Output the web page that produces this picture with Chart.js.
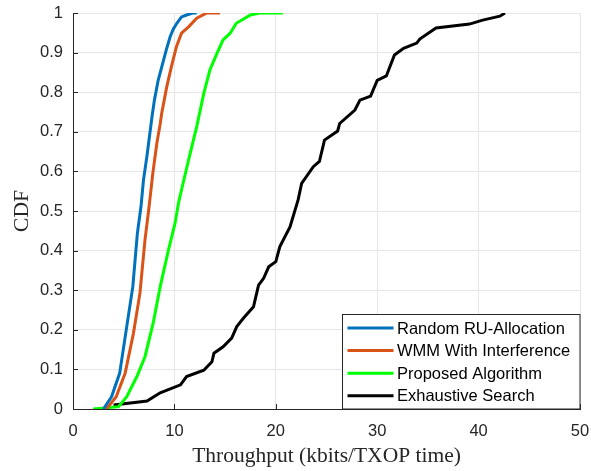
<!DOCTYPE html>
<html>
<head>
<meta charset="utf-8">
<script src="https://cdn.jsdelivr.net/npm/chart.js@4"></script>
<style>
  body { margin: 0; background: #fff; }
  #wrap { width: 591px; height: 471px; }
</style>
</head>
<body>
<div id="wrap"><canvas id="myChart" width="591" height="471"></canvas></div>
<script>
// CDF curves (x = throughput, y = CDF)
var seriesNames = ["Random RU-Allocation", "WMM With Interference", "Proposed Algorithm", "Exhaustive Search"];

var randomX = [3.0, 3.8, 4.6, 5.3, 5.9, 6.35, 6.7, 6.95, 7.3, 7.8, 8.03, 8.4, 9.2, 9.58, 9.9, 10.24, 10.7, 11.2, 11.8, 12.2];
var randomY = [0, 0.031, 0.09, 0.208, 0.309, 0.444, 0.51, 0.578, 0.64, 0.74, 0.78, 0.83, 0.907, 0.94, 0.96, 0.974, 0.99, 0.995, 1.0, 1.0];

var wmmX = [3.3, 4.26, 5.14, 5.96, 6.6, 7.1, 7.5, 7.87, 8.27, 8.6, 8.75, 9.25, 9.7, 10.2, 10.7, 11.4, 12.2, 13.2, 14.5];
var wmmY = [0, 0.031, 0.09, 0.191, 0.292, 0.427, 0.51, 0.595, 0.671, 0.72, 0.747, 0.814, 0.864, 0.915, 0.949, 0.965, 0.987, 1.0, 1.0];

var proposedX = [2.0, 4.5, 5.3, 6.3, 7.1, 7.9, 8.6, 9.4, 10.07, 10.4, 10.7, 11.4, 12.2, 12.9, 13.5, 14.2, 14.8, 15.5, 16.1, 17.5, 18.4, 20.7];
var proposedY = [0, 0.006, 0.031, 0.082, 0.132, 0.216, 0.309, 0.40, 0.47, 0.52, 0.553, 0.629, 0.713, 0.797, 0.856, 0.898, 0.932, 0.949, 0.974, 0.995, 1.0, 1.0];

var exhaustiveX = [4.0, 7.3, 8.6, 10.6, 11.2, 12.9, 13.7, 13.9, 14.8, 15.65, 16.15, 16.8, 17.8, 18.3, 18.8, 19.3, 20.0, 20.4, 21.4, 22.2, 22.55, 23.7, 24.3, 24.8, 26.1, 26.3, 27.8, 28.3, 29.35, 30.0, 30.9, 31.7, 32.6, 33.9, 34.2, 35.8, 39.1, 40.4, 42.1, 42.6];
var exhaustiveY = [0.01, 0.02, 0.041, 0.061, 0.082, 0.098, 0.119, 0.141, 0.157, 0.179, 0.208, 0.229, 0.258, 0.313, 0.33, 0.359, 0.372, 0.41, 0.46, 0.528, 0.57, 0.612, 0.625, 0.679, 0.702, 0.721, 0.755, 0.78, 0.79, 0.83, 0.841, 0.894, 0.911, 0.924, 0.934, 0.962, 0.972, 0.982, 0.992, 1.0];

var xTicks = [0, 10, 20, 30, 40, 50];
var yTicks = [0, 0.1, 0.2, 0.3, 0.4, 0.5, 0.6, 0.7, 0.8, 0.9, 1];

var colors = ["#0072BD", "#D95319", "#00FF00", "#000000"];

function zip(xs, ys) {
  return xs.map(function (x, i) { return { x: x, y: ys[i] }; });
}

var allX = [randomX, wmmX, proposedX, exhaustiveX];
var allY = [randomY, wmmY, proposedY, exhaustiveY];

var datasets = seriesNames.map(function (name, i) {
  return {
    label: name,
    data: zip(allX[i], allY[i]),
    borderColor: colors[i],
    backgroundColor: colors[i],
    borderWidth: 3,
    pointRadius: 0,
    tension: 0,
    fill: false,
  };
});

// stop chart.js from reserving room for the end labels
function noPad(s) {
  s.paddingLeft = 0;
  s.paddingRight = 0;
  s.paddingTop = 0;
  s.paddingBottom = 0;
}

// matlab style inward ticks
var inwardTicks = {
  id: "inwardTicks",
  afterDatasetsDraw: function (chart) {
    var c = chart.ctx, a = chart.chartArea;
    var xs = chart.scales.x, ys = chart.scales.y;
    c.save();
    c.strokeStyle = "#262626";
    c.lineWidth = 1;
    c.beginPath();
    xTicks.forEach(function (t) {
      var px = Math.round(xs.getPixelForValue(t)) + 0.5;
      c.moveTo(px, a.bottom);
      c.lineTo(px, a.bottom - 5);
    });
    yTicks.forEach(function (t) {
      var py = Math.round(ys.getPixelForValue(t)) + 0.5;
      c.moveTo(a.left, py);
      c.lineTo(a.left + 5, py);
    });
    c.stroke();
    c.restore();
  },
};

// legend box inside the axes, bottom right
var boxLegend = {
  id: "boxLegend",
  afterDraw: function (chart) {
    var c = chart.ctx, a = chart.chartArea;
    var w = 237.5, h = 94.5;
    var left = Math.round(a.right - 1 - w) + 0.5;
    var top = Math.round(a.bottom - 1 - h) + 0.5;
    c.save();
    c.fillStyle = "#fff";
    c.fillRect(left, top, w, h);
    c.strokeStyle = "#262626";
    c.lineWidth = 1;
    c.strokeRect(left, top, w, h);
    c.font = "16.5px 'Liberation Sans', Arial, sans-serif";
    c.textBaseline = "middle";
    c.fillStyle = "#000";
    chart.data.datasets.forEach(function (ds, i) {
      var y = top + 13.5 + i * 22.6;
      c.strokeStyle = ds.borderColor;
      c.lineWidth = 3;
      c.beginPath();
      c.moveTo(left + 5, y);
      c.lineTo(left + 51, y);
      c.stroke();
      c.fillText(ds.label, left + 54.5, y + 1);
    });
    c.restore();
  },
};

var ctx1 = document.getElementById("myChart").getContext("2d");
var myChart1 = new Chart(ctx1, {
  type: "line",
  data: { datasets: datasets },
  plugins: [inwardTicks, boxLegend],
  options: {
    responsive: false,
    animation: false,
    layout: { padding: { left: 0, right: 11, top: 13, bottom: 0 } },
    plugins: { legend: { display: false }, tooltip: { enabled: false } },
    scales: {
      x: {
        type: "linear",
        min: 0,
        max: 50,
        afterBuildTicks: function (s) { s.ticks = xTicks.map(function (v) { return { value: v }; }); },
        afterFit: function (s) { s.height = 62; noPad(s); },
        grid: { color: "#e6e6e6", drawTicks: false },
        border: { color: "#262626", width: 1 },
        ticks: {
          padding: 13,
          color: "#262626",
          font: { family: "'Liberation Sans', Arial, sans-serif", size: 16.5 },
          maxRotation: 0,
          callback: function (v) { return String(v); },
        },
        title: {
          display: true,
          text: "Throughput (kbits/TXOP time)",
          color: "#262626",
          font: { family: "'Liberation Serif', 'Times New Roman', serif", size: 21.5 },
          padding: { top: 0, bottom: 2 },
        },
      },
      y: {
        type: "linear",
        min: 0,
        max: 1,
        afterBuildTicks: function (s) { s.ticks = yTicks.map(function (v) { return { value: v }; }); },
        afterFit: function (s) { s.width = 73; noPad(s); },
        grid: { color: "#e6e6e6", drawTicks: false },
        border: { color: "#262626", width: 1 },
        ticks: {
          padding: 10,
          color: "#262626",
          font: { family: "'Liberation Sans', Arial, sans-serif", size: 16.5 },
          callback: function (v) { return String(v); },
        },
        title: {
          display: true,
          text: "CDF",
          color: "#262626",
          font: { family: "'Liberation Serif', 'Times New Roman', serif", size: 21.5 },
          padding: { top: 9, bottom: 0 },
        },
      },
    },
  },
});
</script>
</body>
</html>
